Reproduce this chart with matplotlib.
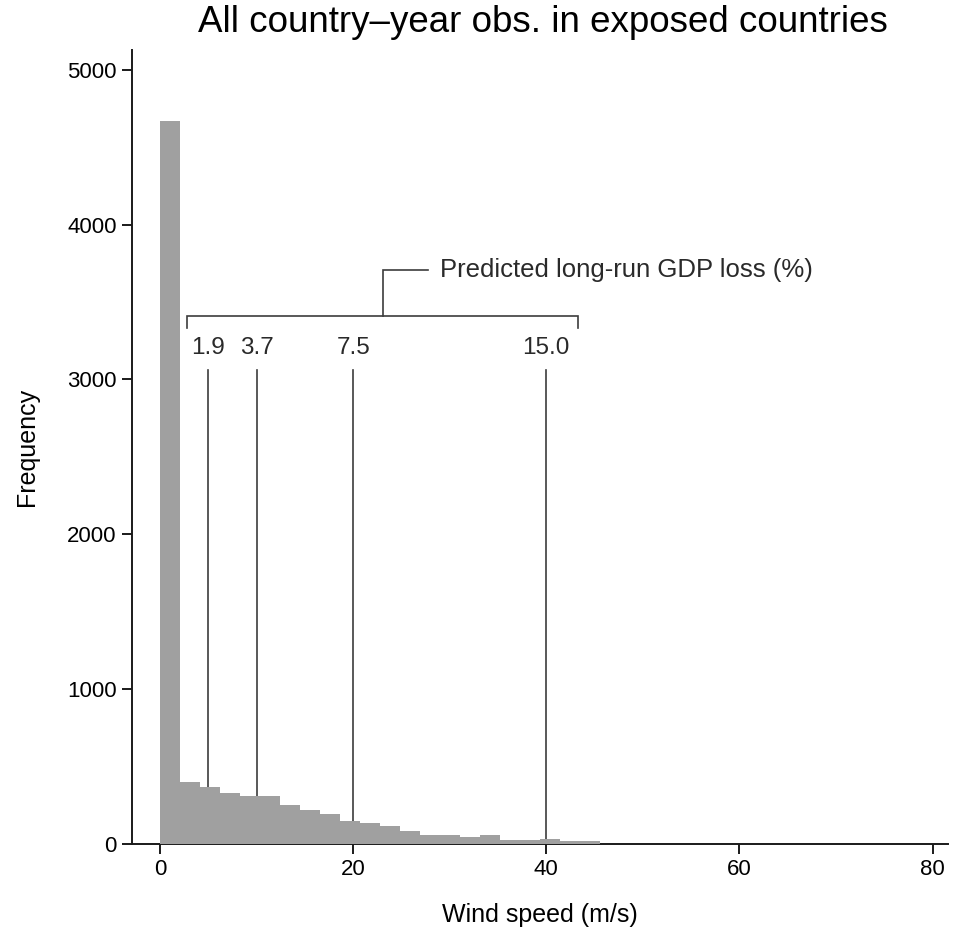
import numpy as np
import matplotlib
matplotlib.use("Agg")
import matplotlib.pyplot as plt

plt.rcParams["font.family"] = ["Liberation Sans", "DejaVu Sans"]

# histogram counts of wind speed (m/s), equal-width bins starting at 0
bin_width = 2.07
counts = [4670, 398, 370, 327, 312, 310, 252, 219, 194, 146, 133,
          116, 86, 60, 60, 43, 60, 28, 28, 30, 17, 17]

# wind speeds marked with predicted long-run GDP loss (%)
marker_speeds = [5, 10, 20, 40]
marker_losses = ["1.9", "3.7", "7.5", "15.0"]

xticks = [0, 20, 40, 60, 80]
yticks = [0, 1000, 2000, 3000, 4000, 5000]

fig = plt.figure(figsize=(9.54, 9.27), dpi=100)
ax = fig.add_axes([0.1384, 0.0895, 0.8553, 0.857])

lefts = np.arange(len(counts)) * bin_width
ax.bar(lefts, counts, width=bin_width, align="edge", color="#a0a0a0",
       edgecolor="none", zorder=3)

line_col = "#3c3c3c"
for xs, lab in zip(marker_speeds, marker_losses):
    ax.plot([xs, xs], [0, 3060], color=line_col, lw=1.2, zorder=2)
    ax.text(xs, 3206, lab, ha="center", va="center", fontsize=17.5,
            color="#2a2a2a")

# bracket grouping the markers
ax.plot([2.75, 2.75, 43.3, 43.3], [3335, 3408, 3408, 3335],
        color=line_col, lw=1.2, solid_joinstyle="miter")
ax.plot([23.1, 23.1, 27.7], [3408, 3705, 3705], color=line_col, lw=1.2,
        solid_joinstyle="miter")
ax.text(29.0, 3705, "Predicted long-run GDP loss (%)", ha="left",
        va="center", fontsize=18.5, color="#2a2a2a")

ax.set_xlim(-2.9, 81.6)
ax.set_ylim(0, 5130)
ax.set_xticks(xticks)
ax.set_yticks(yticks)
ax.spines["top"].set_visible(False)
ax.spines["right"].set_visible(False)
for s in ("left", "bottom"):
    ax.spines[s].set_linewidth(1.4)
    ax.spines[s].set_color("#1a1a1a")
ax.tick_params(direction="out", length=7, width=1.4, labelsize=16,
               color="#1a1a1a", pad=4)

ax.set_xlabel("Wind speed (m/s)", fontsize=18, labelpad=16)
ax.set_ylabel("Frequency", fontsize=18, labelpad=20)
fig.text(0.569, 1 - 22 / 927, "All country\u2013year obs. in exposed countries",
         ha="center", va="center", fontsize=26.5)

fig.savefig("out.png", dpi=100)
